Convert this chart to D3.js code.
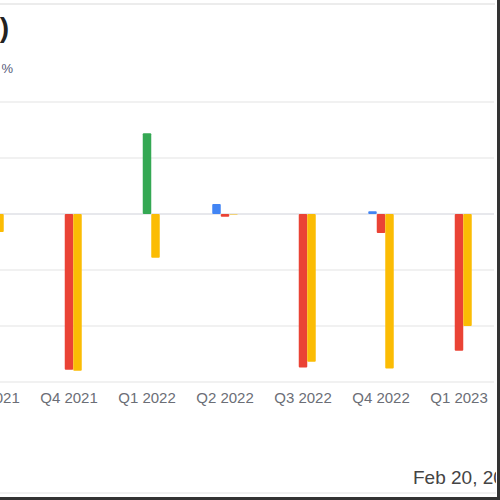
<!DOCTYPE html>
<html>
<head>
<meta charset="utf-8">
<script src="https://cdn.jsdelivr.net/npm/d3@7"></script>
<style>
  body { margin: 0; background: #fff; }
  text { font-family: "Liberation Sans", Arial, sans-serif; }
</style>
</head>
<body>
<div id="chart"></div>
<script>
// datos (el grafico esta recortado a los lados)
const QUARTERS = ["Q3 2021", "Q4 2021", "Q1 2022", "Q2 2022", "Q3 2022", "Q4 2022", "Q1 2023"];
const SERIES_A = [0, 0, 0, 9, 0, 2.5, 0];             // azul
const SERIES_B = [-20, -139, 72, -2.5, -137, -17, -122]; // rojo / verde segun signo
const SERIES_C = [-16, -140, -39, -0.5, -132, -138, -100]; // amarillo
const Y_TICKS = [-150, -100, -50, 0, 50, 100];

const SVG_WIDTH = 500;
const SVG_HEIGHT = 500;

const SVG = d3.select("#chart").append("svg")
  .attr("width", SVG_WIDTH)
  .attr("height", SVG_HEIGHT);

// escalas
const x = d3.scaleBand()
  .domain(QUARTERS)
  .range([-48, 498])
  .padding(0);

const sub = d3.scaleBand()
  .domain(["a", "b", "c"])
  .range([0, 25.5]);

const y = d3.scaleLinear()
  .domain([-150, 100])
  .range([382, 102]);

// recorte para el texto de la fecha
SVG.append("clipPath").attr("id", "clip-date")
  .append("rect").attr("x", 0).attr("y", 0).attr("width", 496).attr("height", 500);

// separadores claros arriba y abajo
SVG.append("line")
  .attr("x1", 0).attr("x2", 495).attr("y1", 4).attr("y2", 4)
  .attr("stroke", "#ececec").attr("stroke-width", 2);

// titulo (solo se ve el final)
SVG.append("text")
  .attr("x", 9).attr("y", 37)
  .attr("text-anchor", "end")
  .attr("font-size", 28).attr("font-weight", "bold")
  .attr("fill", "#222")
  .text("Earnings Surprise (%)");

SVG.append("text")
  .attr("x", 13).attr("y", 73)
  .attr("text-anchor", "end")
  .attr("font-size", 13)
  .attr("fill", "#555a78")
  .text("Surprise %");

// grilla
SVG.append("g")
  .selectAll("line")
  .data(Y_TICKS)
  .join("line")
  .attr("x1", 0).attr("x2", 494)
  .attr("y1", d => y(d)).attr("y2", d => y(d))
  .attr("stroke", d => d === 0 ? "#dfe1e6" : "#ededed")
  .attr("stroke-width", d => d === 0 ? 1.5 : 1.3);

// barras
const rows = QUARTERS.map((q, i) => [
  { q: q, k: "a", v: SERIES_A[i] },
  { q: q, k: "b", v: SERIES_B[i] },
  { q: q, k: "c", v: SERIES_C[i] },
]).flat().filter(d => d.v !== 0);

function colorOf(d) {
  if (d.k === "a") return "#4285f4";
  if (d.k === "c") return "#fbbc04";
  return d.v >= 0 ? "#34a853" : "#ea4335";
}

SVG.append("g")
  .selectAll("rect")
  .data(rows)
  .join("rect")
  .attr("x", d => x(d.q) + x.bandwidth() / 2 - 12.75 + sub(d.k))
  .attr("width", sub.bandwidth())
  .attr("y", d => Math.min(y(d.v), y(0)))
  .attr("height", d => Math.abs(y(d.v) - y(0)))
  .attr("rx", 1)
  .attr("fill", colorOf);

// eje x
const xAxis = SVG.append("g")
  .attr("transform", `translate(0, ${y(-150)})`)
  .call(d3.axisBottom(x).tickSize(0).tickPadding(10));
xAxis.select(".domain").remove();
xAxis.selectAll("text")
  .attr("font-size", 15)
  .attr("font-family", "Liberation Sans, Arial, sans-serif")
  .attr("fill", "#6b6e76");

// fecha abajo a la derecha
SVG.append("text")
  .attr("x", 413).attr("y", 484)
  .attr("font-size", 19)
  .attr("fill", "#444")
  .attr("clip-path", "url(#clip-date)")
  .text("Feb 20, 2024");

SVG.append("line")
  .attr("x1", 0).attr("x2", 496).attr("y1", 493).attr("y2", 493)
  .attr("stroke", "#ececec").attr("stroke-width", 1.5);

// borde oscuro
SVG.append("line")
  .attr("x1", 498.5).attr("x2", 498.5).attr("y1", 0).attr("y2", 500)
  .attr("stroke", "#333").attr("stroke-width", 3);
SVG.append("line")
  .attr("x1", 0).attr("x2", 500).attr("y1", 498.5).attr("y2", 498.5)
  .attr("stroke", "#333").attr("stroke-width", 3);
</script>
</body>
</html>
